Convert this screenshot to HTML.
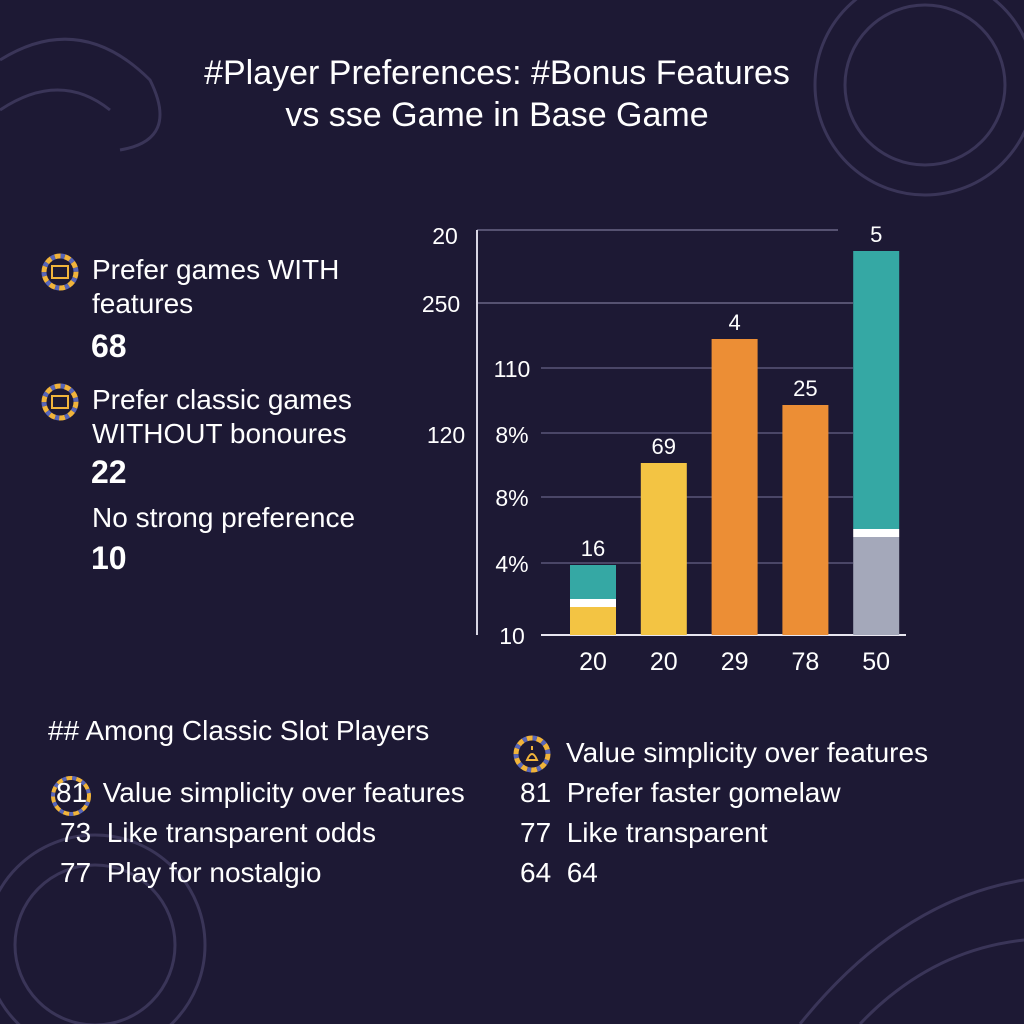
<!DOCTYPE html>
<html><head><meta charset="utf-8"><style>
body{margin:0;width:1024px;height:1024px;background:#1d1934;overflow:hidden;position:relative;font-family:"Liberation Sans",sans-serif;color:#fff}
.t{position:absolute;white-space:nowrap}
</style></head><body>
<svg width="1024" height="1024" style="position:absolute;left:0;top:0">
<g fill="none" stroke="#3a3558" stroke-width="3">
<circle cx="925" cy="85" r="110"/><circle cx="925" cy="85" r="80"/>
<circle cx="95" cy="945" r="110"/><circle cx="95" cy="945" r="80"/>
<path d="M0 60 Q80 10 150 80 Q180 140 120 150"/><path d="M0 110 Q60 70 110 110"/>
<path d="M800 1024 Q900 900 1024 880"/><path d="M860 1024 Q930 950 1024 940"/>
</g></svg>
<div class="t" style="left:0;width:994px;top:52px;text-align:center;font-size:34px;line-height:42px">#Player Preferences: #Bonus Features<br>vs sse Game in Base Game</div>

<svg width="40" height="40" style="position:absolute;left:40px;top:252px"><circle cx="20" cy="20" r="16" fill="#1d1934" stroke="#f1b43b" stroke-width="5" stroke-dasharray="6 4"/><circle cx="20" cy="20" r="16" fill="none" stroke="#5866b8" stroke-width="5" stroke-dasharray="4 6" stroke-dashoffset="4"/><rect x="12" y="14" width="16" height="12" fill="none" stroke="#f1b43b" stroke-width="2"/></svg>
<div class="t" style="left:92px;top:253px;font-size:28px;line-height:34px">Prefer games WITH<br>features</div>
<div class="t" style="left:91px;top:328px;font-size:32px;font-weight:bold">68</div>
<svg width="40" height="40" style="position:absolute;left:40px;top:382px"><circle cx="20" cy="20" r="16" fill="#1d1934" stroke="#f1b43b" stroke-width="5" stroke-dasharray="6 4"/><circle cx="20" cy="20" r="16" fill="none" stroke="#5866b8" stroke-width="5" stroke-dasharray="4 6" stroke-dashoffset="4"/><rect x="12" y="14" width="16" height="12" fill="none" stroke="#f1b43b" stroke-width="2"/></svg>
<div class="t" style="left:92px;top:383px;font-size:28px;line-height:34px">Prefer classic games<br>WITHOUT bonoures</div>
<div class="t" style="left:91px;top:454px;font-size:32px;font-weight:bold">22</div>
<div class="t" style="left:92px;top:502px;font-size:28px">No strong preference</div>
<div class="t" style="left:91px;top:540px;font-size:32px;font-weight:bold">10</div>

<svg id="chart" width="1024" height="700" style="position:absolute;left:0;top:0"></svg>

<div class="t" style="left:48px;top:715px;font-size:28px">## Among Classic Slot Players</div>
<svg width="40" height="40" style="position:absolute;left:512px;top:734px"><circle cx="20" cy="20" r="16" fill="#1d1934" stroke="#f1b43b" stroke-width="5" stroke-dasharray="6 4"/><circle cx="20" cy="20" r="16" fill="none" stroke="#5866b8" stroke-width="5" stroke-dasharray="4 6" stroke-dashoffset="4"/><path d="M20 12 L20 16 M15 26 Q20 14 25 26 Z" fill="none" stroke="#f1b43b" stroke-width="2"/></svg>
<div class="t" style="left:566px;top:737px;font-size:28px">Value simplicity over features</div>
<svg width="44" height="44" style="position:absolute;left:49px;top:774px"><circle cx="22" cy="22" r="18" fill="none" stroke="#f1b43b" stroke-width="4" stroke-dasharray="6 4"/><circle cx="22" cy="22" r="18" fill="none" stroke="#5866b8" stroke-width="4" stroke-dasharray="4 6" stroke-dashoffset="4"/></svg>
<div class="t" style="left:56px;top:777px;font-size:28px">81&nbsp; Value simplicity over features</div>
<div class="t" style="left:60px;top:817px;font-size:28px">73&nbsp; Like transparent odds</div>
<div class="t" style="left:60px;top:857px;font-size:28px">77&nbsp; Play for nostalgio</div>
<div class="t" style="left:520px;top:777px;font-size:28px">81&nbsp; Prefer faster gomelaw</div>
<div class="t" style="left:520px;top:817px;font-size:28px">77&nbsp; Like transparent</div>
<div class="t" style="left:520px;top:857px;font-size:28px">64&nbsp; 64</div>

<script>
const categories=["20","20","29","78","50"];
const bottomValues=[7,43,74,57.5,24.5];
const topValues=[10.5,0,0,0,71.5];
const barLabels=["16","69","4","25","5"];
const bottomColors=["#f3c443","#f3c443","#ec8e35","#ec8e35","#a4a8ba"];
const leftTicks=["20","250","120"];
const innerTicks=["110","8%","8%","4%","10"];
const NS="http://www.w3.org/2000/svg";
const svg=document.getElementById('chart');
const base=635,scale=4,x0=570,step=70.8,bw=46;
const y=v=>base-v*scale;
const bx=i=>x0+i*step;
function mk(t,a,txt){const e=document.createElementNS(NS,t);for(const k in a)e.setAttribute(k,a[k]);if(txt!=null)e.textContent=txt;svg.appendChild(e);return e;}
let e;
e=mk('line',{x1:477,x2:838,y1:230,y2:230,stroke:'#6a6685','stroke-width':1.5});

e=mk('line',{x1:477,x2:853,y1:303,y2:303,stroke:'#6a6685','stroke-width':1.5});

[368,433,497,563].forEach(gy=>{e=mk('line',{x1:541,x2:853,y1:gy,y2:gy,stroke:'#5a5678','stroke-width':1.5});
});
e=mk('line',{x1:477,x2:477,y1:230,y2:635,stroke:'#d8d6e4','stroke-width':2});

e=mk('line',{x1:541,x2:906,y1:635,y2:635,stroke:'#e8e6f0','stroke-width':2});

const lt=[[445,244],[441,312],[446,443]];
leftTicks.forEach((t,i)=>{e=mk('text',{x:lt[i][0],y:lt[i][1],fill:'#fff','font-size':23,'text-anchor':'middle'},t);
});
const it=[377,443,506,572,644];
innerTicks.forEach((t,i)=>{e=mk('text',{x:512,y:it[i],fill:'#fff','font-size':23,'text-anchor':'middle'},t);
});
categories.forEach((c,i)=>{
 const b=bottomValues[i],t=topValues[i];
 e=mk('rect',{x:bx(i),y:y(b),width:bw,height:b*scale,fill:bottomColors[i]});
 
 let top=b;
 if(t>0){
  e=mk('rect',{x:bx(i),y:y(b+2),width:bw,height:2*scale,fill:'#ffffff'});
  
  e=mk('rect',{x:bx(i),y:y(b+t),width:bw,height:(t-2)*scale,fill:'#35a8a4'});
  
  top=b+t;
 }
 e=mk('text',{x:bx(i)+bw/2,y:y(top)-9,fill:'#fff','font-size':22,'text-anchor':'middle'},barLabels[i]);
 
 e=mk('text',{x:bx(i)+bw/2,y:670,fill:'#fff','font-size':25,'text-anchor':'middle'},c);
 
});
</script>
</body></html>
